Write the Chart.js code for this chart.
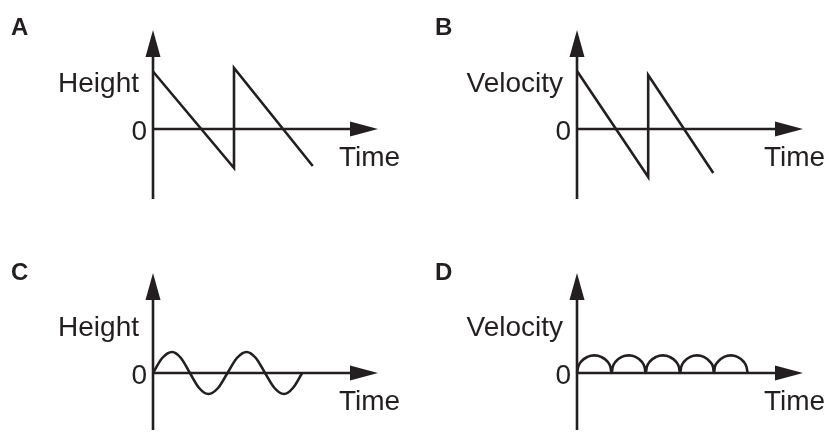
<!DOCTYPE html>
<html>
<head>
<meta charset="utf-8">
<script src="https://cdn.jsdelivr.net/npm/chart.js@4/dist/chart.umd.min.js"></script>
<style>
  html, body { margin: 0; padding: 0; background: #ffffff; }
  #wrap { position: relative; width: 829px; height: 439px; overflow: hidden; background: #fff; }
  canvas { position: absolute; display: block; }
</style>
</head>
<body>
<div id="wrap">
  <canvas id="cA" width="414" height="220" style="left:0px;top:0px;"></canvas>
  <canvas id="cB" width="415" height="220" style="left:414px;top:0px;"></canvas>
  <canvas id="cC" width="414" height="219" style="left:0px;top:220px;"></canvas>
  <canvas id="cD" width="415" height="219" style="left:414px;top:220px;"></canvas>
</div>
<script>
// ---------- data ----------
const panelLetters = ['A', 'B', 'C', 'D'];
const yAxisLabels = ['Height', 'Velocity', 'Height', 'Velocity'];
const xAxisLabel = 'Time';
const zeroLabel = '0';

// Panel A: height vs time (sawtooth)
const aTime   = [0, 3.6, 3.6, 7.1];
const aHeight = [5.75, -3.9, 6.1, -3.7];

// Panel B: velocity vs time (sawtooth)
const bTime     = [0, 3.15, 3.15, 6.03];
const bVelocity = [5.8, -4.8, 5.4, -4.4];

// Panel C: height vs time (oscillation)
const cTime   = [0, 0.41, 0.85, 1.24, 1.64, 2.05, 2.46, 2.89, 3.31, 3.73, 4.16, 4.57, 4.98, 5.40, 5.82, 6.22, 6.63];
const cHeight = [0, 1.5, 2.1, 1.5, 0, -1.5, -2.1, -1.5, 0, 1.5, 2.1, 1.5, 0, -1.5, -2.1, -1.5, 0];

// Panel D: velocity vs time (five arches)
const dTime = [
  0.00, 0.05, 0.18, 0.46, 0.77, 1.07, 1.35, 1.48,
  1.53, 1.58, 1.71, 1.98, 2.29, 2.59, 2.86, 2.99,
  3.04, 3.09, 3.22, 3.50, 3.80, 4.10, 4.38, 4.51,
  4.56, 4.61, 4.74, 5.01, 5.31, 5.61, 5.88, 6.02,
  6.06, 6.10, 6.24, 6.51, 6.81, 7.10, 7.37, 7.50,
  7.55
];
const dVelocity = [
  0, 0.6, 1.14, 1.61, 1.76, 1.61, 1.14, 0.6,
  0, 0.6, 1.14, 1.61, 1.76, 1.61, 1.14, 0.6,
  0, 0.6, 1.14, 1.61, 1.76, 1.61, 1.14, 0.6,
  0, 0.6, 1.14, 1.61, 1.76, 1.61, 1.14, 0.6,
  0, 0.6, 1.14, 1.61, 1.76, 1.61, 1.14, 0.6,
  0
];

// ---------- drawing ----------
const INK = '#231f20';
const FONT = '"Liberation Sans", Arial, Helvetica, sans-serif';

const physAxes = {
  id: 'physAxes',
  beforeDatasetsDraw(chart) {
    const { ctx, chartArea: a, scales: { x, y } } = chart;
    const x0 = x.getPixelForValue(0);
    const y0 = y.getPixelForValue(0);
    ctx.save();
    ctx.strokeStyle = INK;
    ctx.fillStyle = INK;
    ctx.lineWidth = 2.6;
    ctx.lineCap = 'butt';
    // vertical axis
    ctx.beginPath();
    ctx.moveTo(x0, a.top + 20);
    ctx.lineTo(x0, a.bottom);
    ctx.stroke();
    // horizontal axis
    ctx.beginPath();
    ctx.moveTo(x0, y0);
    ctx.lineTo(a.right - 20, y0);
    ctx.stroke();
    // arrowheads
    ctx.beginPath();
    ctx.moveTo(x0, a.top);
    ctx.lineTo(x0 - 7.5, a.top + 27);
    ctx.lineTo(x0 + 7.5, a.top + 27);
    ctx.closePath();
    ctx.fill();
    ctx.beginPath();
    ctx.moveTo(a.right, y0);
    ctx.lineTo(a.right - 28, y0 - 7.5);
    ctx.lineTo(a.right - 28, y0 + 7.5);
    ctx.closePath();
    ctx.fill();
    ctx.restore();
  },
  afterDraw(chart, args, opts) {
    const { ctx, chartArea: a, scales: { x, y } } = chart;
    const x0 = x.getPixelForValue(0);
    const y0 = y.getPixelForValue(0);
    ctx.save();
    ctx.fillStyle = INK;
    ctx.textBaseline = 'alphabetic';
    // panel letter
    ctx.font = 'bold 24px ' + FONT;
    ctx.textAlign = 'left';
    ctx.fillText(opts.letter, opts.letterX, opts.letterY);
    // axis texts
    ctx.font = '28px ' + FONT;
    ctx.textAlign = 'right';
    ctx.fillText(opts.yLabel, x0 - 14, y0 - 37);
    ctx.fillText(zeroLabel, x0 - 6, y0 + 11);
    ctx.textAlign = 'left';
    ctx.fillText(xAxisLabel, a.right - 39, y0 + 36.5);
    ctx.restore();
  }
};

function toPoints(xs, ys) {
  return xs.map((t, i) => ({ x: t, y: ys[i] }));
}

function makePanel(canvasId, xs, ys, idx, yMin, yMax, pad, smooth) {
  return new Chart(document.getElementById(canvasId), {
    type: 'line',
    data: {
      datasets: [{
        data: toPoints(xs, ys),
        borderColor: INK,
        borderWidth: 2.6,
        pointRadius: 0,
        fill: false,
        tension: smooth ? 0.4 : 0,
        cubicInterpolationMode: smooth ? 'monotone' : 'default',
        clip: false,
        borderJoinStyle: 'miter',
        borderCapStyle: 'butt'
      }]
    },
    options: {
      responsive: false,
      animation: false,
      devicePixelRatio: 1,
      layout: { padding: pad },
      events: [],
      scales: {
        x: { type: 'linear', min: 0, max: 10, display: false },
        y: { type: 'linear', min: yMin, max: yMax, display: false }
      },
      plugins: {
        legend: { display: false },
        tooltip: { enabled: false },
        title: { display: false },
        physAxes: {
          letter: panelLetters[idx],
          yLabel: yAxisLabels[idx],
          letterX: idx % 2 === 0 ? 11 : 21,
          letterY: idx < 2 ? 35 : 60
        }
      }
    },
    plugins: [physAxes]
  });
}

makePanel('cA', aTime, aHeight, 0, -7.0, 9.9, { left: 153, right: 36, top: 30, bottom: 21 }, false);
makePanel('cB', bTime, bVelocity, 1, -7.0, 9.9, { left: 163, right: 26, top: 30, bottom: 21 }, false);
makePanel('cC', cTime, cHeight, 2, -5.7, 10.0, { left: 153, right: 36, top: 53, bottom: 9 }, true);
makePanel('cD', dTime, dVelocity, 3, -5.7, 10.0, { left: 163, right: 26, top: 53, bottom: 9 }, true);
</script>
</body>
</html>
